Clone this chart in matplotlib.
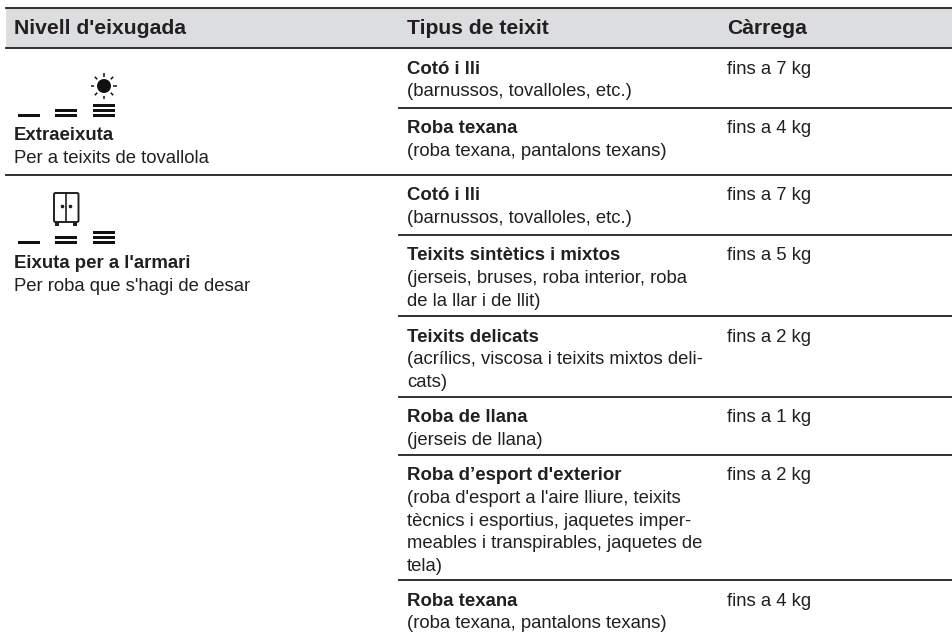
import numpy as np
import matplotlib
matplotlib.use("Agg")
import matplotlib.pyplot as plt
from matplotlib.patches import Circle, FancyBboxPatch, Rectangle

plt.rcParams['font.family'] = ['Liberation Sans', 'DejaVu Sans']

headers = ["Nivell d'eixugada", "Tipus de teixit", "Càrrega"]
level_names = ["Extraeixuta", "Eixuta per a l'armari"]
level_notes = ["Per a teixits de tovallola", "Per roba que s'hagi de desar"]
fabric_names = ["Cotó i lli", "Roba texana", "Cotó i lli", "Teixits sintètics i mixtos",
                "Teixits delicats", "Roba de llana", "Roba d’esport d'exterior", "Roba texana"]
fabric_notes = [
    ["(barnussos, tovalloles, etc.)"],
    ["(roba texana, pantalons texans)"],
    ["(barnussos, tovalloles, etc.)"],
    ["(jerseis, bruses, roba interior, roba", "de la llar i de llit)"],
    ["(acrílics, viscosa i teixits mixtos deli-", "cats)"],
    ["(jerseis de llana)"],
    ["(roba d'esport a l'aire lliure, teixits", "tècnics i esportius, jaquetes imper-",
     "meables i transpirables, jaquetes de", "tela)"],
    ["(roba texana, pantalons texans)"],
]
loads = ["fins a 7 kg", "fins a 4 kg", "fins a 7 kg", "fins a 5 kg",
         "fins a 2 kg", "fins a 1 kg", "fins a 2 kg", "fins a 4 kg"]

ink = "#231f20"
fs = 13.3
fs_bold = 13.4
leading = 22.6

fig = plt.figure(figsize=(9.53, 6.34), dpi=100)
ax = fig.add_axes([0, 0, 1, 1])
ax.set_xlim(0, 953)
ax.set_ylim(634, 0)
ax.axis("off")

# header band
ax.add_patch(Rectangle((6, 8), 947, 40, fc="#dcddde", ec="none"))
ax.plot([6, 953], [8, 8], color=ink, lw=1.3)
ax.plot([6, 953], [48, 48], color=ink, lw=1.3)
for x, h in zip([14, 407, 727], headers):
    ax.text(x, 34.5, h, fontsize=15.2, fontweight="bold", color=ink, va="baseline")

# row rules
row_tops = [48, 107.5, 175, 235, 316, 397, 455, 580]
for y in row_tops[1:]:
    x0 = 6 if y == 175 else 399
    ax.plot([x0, 953], [y, y], color=ink, lw=1.3)

# fabric rows
for top, name, note, load in zip(row_tops, fabric_names, fabric_notes, loads):
    base = top + 25.5
    ax.text(407, base, name, fontsize=fs_bold, fontweight="bold", color=ink, va="baseline")
    for i, line in enumerate(note):
        ax.text(407, base + (i + 1) * leading, line, fontsize=fs, color=ink, va="baseline")
    ax.text(727, base, load, fontsize=fs, color=ink, va="baseline")

# left column text
for y, name, note in zip([140, 268], level_names, level_notes):
    ax.text(14, y, name, fontsize=fs_bold, fontweight="bold", color=ink, va="baseline")
    ax.text(14, y + leading, note, fontsize=fs, color=ink, va="baseline")


def level_bars(bottom):
    # one, two and three stacked dashes
    for x0, n in zip([18, 55, 93], [1, 2, 3]):
        for k in range(n):
            y = bottom - k * 5.1
            ax.add_patch(Rectangle((x0, y - 1.5), 22, 3.0, fc="#111111", ec="none"))


level_bars(115.4)
level_bars(242.7)

# sun icon
cx, cy = 104, 86
ax.add_patch(Circle((cx, cy), 7, fc="#111111", ec="none"))
for a in np.radians(np.arange(0, 360, 45)):
    ax.plot([cx + 9.5 * np.cos(a), cx + 13 * np.cos(a)],
            [cy + 9.5 * np.sin(a), cy + 13 * np.sin(a)], color="#111111", lw=1.1,
            solid_capstyle="butt")

# wardrobe icon
ax.add_patch(FancyBboxPatch((54, 193), 24.5, 29, boxstyle="round,pad=0,rounding_size=1.5",
                            fc="white", ec=ink, lw=1.4))
ax.plot([66, 66], [193, 222], color=ink, lw=1.2)
ax.plot([62, 70], [205.7, 205.7], ls="none", marker="o", ms=1.6, color=ink)
ax.add_patch(Rectangle((55, 222), 4, 3.5, fc=ink, ec="none"))
ax.add_patch(Rectangle((73.5, 222), 4, 3.5, fc=ink, ec="none"))

fig.savefig("out.png", dpi=100)
